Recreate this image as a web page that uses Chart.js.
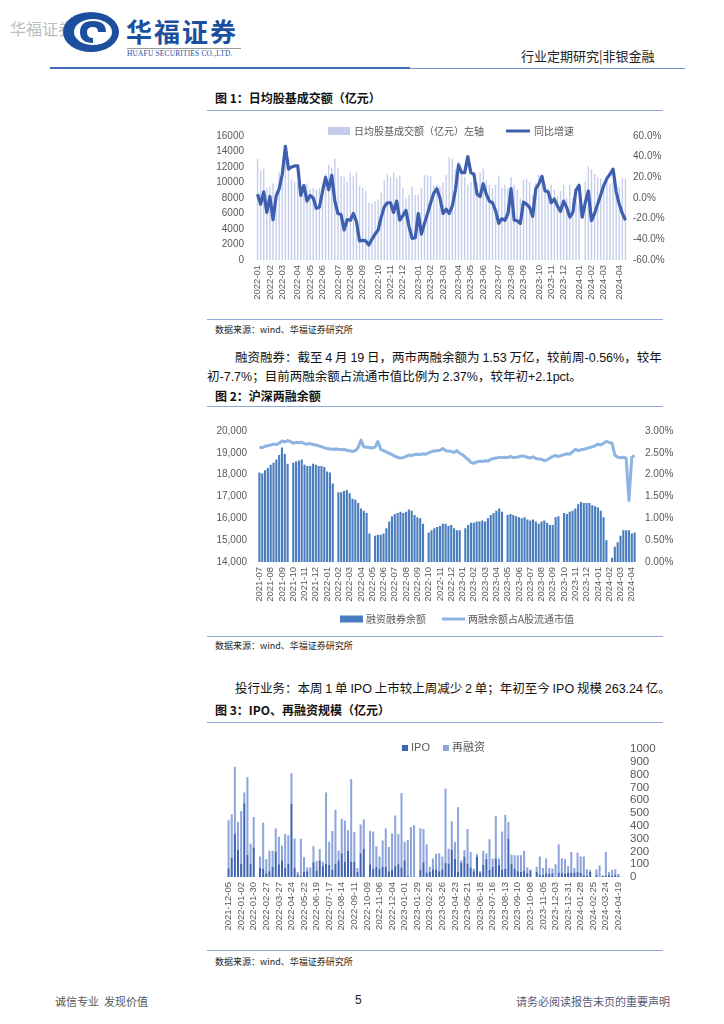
<!DOCTYPE html>
<html><head><meta charset="utf-8">
<script src="https://cdn.jsdelivr.net/npm/chart.js@4.4.1/dist/chart.umd.min.js"></script>
<style>
html,body{margin:0;padding:0;background:#fff;}
#page{position:relative;width:724px;height:1024px;overflow:hidden;font-family:'Noto Sans CJK SC','Liberation Sans',sans-serif;color:#111;}
.t{position:absolute;white-space:nowrap;}
.hr{position:absolute;height:0;border-top:1.5px solid #8fa9d8;}
.title{font-size:12px;font-weight:bold;height:16px;line-height:16px;}
.src{font-size:9px;color:#222;height:12px;line-height:12px;}
.body{font-size:12.5px;height:18px;line-height:18px;}
.num{font-family:'Liberation Sans',sans-serif;}
canvas{position:absolute;}
</style></head><body><div id="page">

<div class="t" style="left:10px;top:18px;font-size:16px;color:#bdbdbd;line-height:20px;">华福证券</div>
<svg style="position:absolute;left:62px;top:11px" width="60" height="42" viewBox="0 0 60 42">
  <ellipse cx="29" cy="21" rx="28" ry="20" fill="#1d4f9f"/>
  <ellipse cx="31" cy="21" rx="19" ry="13" fill="#fff"/>
  <path d="M18 21 Q18 10 31 10 Q44 10 44 21 L36 21 Q36 16 31 16 Q25 16 25 21 Q25 27 31 27 L31 32 Q18 32 18 21 Z" fill="#1d4f9f"/>
</svg>
<div class="t" style="left:126px;top:16px;font-size:26px;font-weight:bold;color:#1d4f9f;line-height:30px;letter-spacing:2px;">华福证券</div>
<div style="position:absolute;left:127px;top:48px;width:114px;border-top:1px solid #999;"></div>
<div class="t" style="left:127px;top:49px;font-size:7.4px;color:#1d4f9f;line-height:10px;font-family:'Liberation Serif',serif;letter-spacing:0.2px;">HUAFU SECURITIES CO.,LTD.</div>
<div class="t" style="left:521px;top:47px;font-size:13px;color:#222;line-height:18px;">行业定期研究|非银金融</div>
<div style="position:absolute;left:50px;top:67px;width:360px;border-top:2px solid #3f6cb8;"></div>
<div style="position:absolute;left:410px;top:67.5px;width:275px;border-top:1.5px solid #6f8fcc;"></div>

<div class="t title" style="left:215px;top:90px;">图 1：日均股基成交额（亿元）</div>
<div class="hr" style="left:207px;top:110px;width:456px;"></div>
<canvas id="c1" width="460" height="200" style="left:205px;top:118px;"></canvas>
<div class="hr" style="left:207px;top:319px;width:456px;"></div>
<div class="t src" style="left:215px;top:324px;">数据来源：wind、华福证券研究所</div>

<div class="t body" style="left:235px;top:348px;width:425px;text-align:justify;text-align-last:justify;">融资融券：截至 <span class="num">4</span> 月 <span class="num">19</span> 日，两市两融余额为 <span class="num">1.53</span> 万亿，较前周<span class="num">-0.56%</span>，较年</div>
<div class="t body" style="left:207px;top:367px;">初<span class="num">-7.7%</span>；目前两融余额占流通市值比例为 <span class="num">2.37%</span>，较年初<span class="num">+2.1pct</span>。</div>

<div class="t title" style="left:215px;top:388px;">图 2：沪深两融余额</div>
<div class="hr" style="left:207px;top:406px;width:456px;"></div>
<canvas id="c2" width="475" height="218" style="left:205px;top:414px;"></canvas>
<div class="hr" style="left:207px;top:636px;width:456px;"></div>
<div class="t src" style="left:215px;top:640px;">数据来源：wind、华福证券研究所</div>

<div class="t body" style="left:235px;top:679px;">投行业务：本周 <span class="num">1</span> 单 <span class="num">IPO</span> 上市较上周减少 <span class="num">2</span> 单；年初至今 <span class="num">IPO</span> 规模 <span class="num">263.24</span> 亿。</div>

<div class="t title" style="left:215px;top:702px;">图 3：IPO、再融资规模（亿元）</div>
<div class="hr" style="left:207px;top:722px;width:456px;"></div>
<canvas id="c3" width="460" height="215" style="left:205px;top:732px;"></canvas>
<div class="hr" style="left:207px;top:950px;width:456px;"></div>
<div class="t src" style="left:215px;top:956px;">数据来源：wind、华福证券研究所</div>

<div class="t" style="left:55px;top:993px;font-size:11px;color:#555;line-height:16px;">诚信专业&nbsp;&nbsp;发现价值</div>
<div class="t" style="left:355px;top:992px;font-size:12px;color:#222;line-height:16px;font-family:'Liberation Sans',sans-serif;">5</div>
<div class="t" style="left:516px;top:993px;font-size:11px;color:#5a5a78;line-height:16px;">请务必阅读报告末页的重要声明</div>

</div>
<script>
// ---------- Chart 1 data ----------
const months1 = ['2022-01','2022-02','2022-03','2022-04','2022-05','2022-06','2022-07','2022-08','2022-09','2022-10','2022-11','2022-12',
  '2023-01','2023-02','2023-03','2023-04','2023-05','2023-06','2023-07','2023-08','2023-09','2023-10','2023-11','2023-12',
  '2024-01','2024-02','2024-03','2024-04'];
const weeksPerMonth1 = [4,4,5,4,4,5,4,4,5,4,4,5, 4,4,5,4,4,5,4,4,5,4,4,5, 4,4,5,3];
const turnover1 = [
 13100,11500,11800,9300,9500,9900,8900,11300,10500,12700,
 13100,10400,10100,10100,9500,8400,9900,9100,9300,9100,
 9300,9700,11100,12300,11900,13100,11900,10900,10700,10100,
 11300,10800,11300,9500,9300,8900,7400,7300,7600,7800,
 8700,10300,11100,10700,11300,10600,10900,9300,8000,8400,
 9500,8400,8400,9300,11000,10900,10800,9600,9700,9500,
 10000,11000,13300,13100,11700,12700,11700,10700,9700,10100,
 10500,10000,11300,11800,10300,9700,9300,9700,10900,9300,
 9700,9300,10700,9700,9100,8000,10300,10500,10100,8400,
 9900,11000,9900,9700,9300,9700,9100,8300,8900,9700,
 8000,9700,8000,7600,7200,null,10100,12100,11700,11100,
 10700,10500,9500,10600,9800,10200,9600,9500,10600,10500];
const yoy1 = [
 3.7,-6,6,-14,1.5,-21,1.5,9,23,50,
 28,30,31,31,2.5,12,-3,2.5,0,-10,
 -9,6,20,8,22,-3,-15,-16,-31,-21,
 -21.5,-15,-23,-41.5,-41,-41.5,-45.5,-40,-35,-31,
 -18.5,-8.6,-4.6,-4.6,-14,-3,-21.5,-17,-12,-27.7,
 -39,-38.5,-15,-35,-24.6,-15,-4.6,4.6,9,0,
 -15,-10.8,-15,-7.7,7.7,32,24.6,24.6,40,24.6,
 23,3.7,1.5,13.8,3.7,-3,-4.6,-12.3,-24.6,-20,
 -21.5,-15,9,-21.5,-22,-24.6,-4,-6,-9,-17.8,
 9,13.8,21,6.8,6,-4.6,-1,-7.7,-12.9,-3,
 -9.2,-18.5,-13.8,7.7,12.3,-18.5,-4.6,6.8,-22,-15,
 -6,3,12.3,19,23,28,6,-6,-15,-21.5];
const leftTicks1 = {min:0, max:16000, step:2000};
const rightTicks1 = {min:-60, max:60, step:20};

// ---------- Chart 2 data ----------
const months2 = ['2021-07','2021-08','2021-09','2021-10','2021-11','2021-12',
  '2022-01','2022-02','2022-03','2022-04','2022-05','2022-06','2022-07','2022-08','2022-09','2022-10','2022-11','2022-12',
  '2023-01','2023-02','2023-03','2023-04','2023-05','2023-06','2023-07','2023-08','2023-09','2023-10','2023-11','2023-12',
  '2024-01','2024-02','2024-03','2024-04'];
const weeksPerMonth2 = [4,4,4,4,4,4, 4,4,4,4,4,4,4,4,4,4,4,4, 4,4,4,4,4,4,4,4,4,4,4,4, 4,4,4,2];
const margin2 = [
 18100,18050,18200,18300, 18450,18550,18700,18900, 19250,18950,18500,null, 18550,18600,18650,18700,
 18450,18400,18400,18500, 18450,18400,18400,18350, 18150,18100,17600,null, 17200,17200,17250,17300,
 17150,16900,16850,16700, 16450,16350,16250,15300, null,15200,15250,15250, 15300,15550,15850,16100,
 16200,16250,16300,16250, 16300,16400,16350,16150, 16050,16000,15750,null, 15350,15450,15550,15600,
 15650,15750,15750,15650, 15700,15550,15450,15450, null,15550,15700,15800, 15800,15850,15850,15900,
 15850,16000,16150,16250, 16350,16450,16300,null, 16150,16200,16150,16100, 16050,16000,16050,15950,
 15900,15950,15850,15750, 15850,15900,15800,15700, 15700,16050,16100,null, 16250,16200,16300,16350,
 16450,16650,16750,16700, 16700,16700,16600,16550, 16500,16350,16050,15000, null,14200,14700,14900,
 15200,15450,15450,15450, 15300,15350];
const ratio2 = [
 2.63,2.62,2.65,2.66, 2.68,2.70,2.69,2.72, 2.77,2.75,2.78,2.76, 2.72,2.74,2.73,2.74,
 2.71,2.70,2.71,2.69, 2.68,2.66,2.64,2.62, 2.60,2.59,2.58,2.59, 2.58,2.57,2.58,2.56,
 2.55,2.53,2.55,2.62, 2.79,2.64,2.63,2.62, 2.61,2.63,2.76,2.58, 2.55,2.52,2.49,2.46,
 2.42,2.40,2.38,2.39, 2.42,2.45,2.44,2.46, 2.47,2.46,2.48,2.47, 2.50,2.53,2.54,2.55,
 2.56,2.60,2.55,2.54, 2.53,2.51,2.55,2.49, 2.46,2.40,2.35,2.28, 2.26,2.29,2.31,2.30,
 2.32,2.31,2.35,2.37, 2.38,2.40,2.39,2.40, 2.39,2.42,2.39,2.40, 2.41,2.43,2.42,2.40,
 2.38,2.41,2.37,2.36, 2.35,2.32,2.34,2.38, 2.42,2.44,2.41,2.44, 2.46,2.48,2.47,2.52,
 2.58,2.55,2.57,2.58, 2.60,2.62,2.64,2.66, 2.70,2.68,2.72,2.76, 2.74,2.72,2.45,2.40,
 2.39,2.40,2.38,1.41, 2.40,2.44];
const leftTicks2 = {min:14000, max:20000, step:1000};
const rightTicks2 = {min:0, max:3, step:0.5};

// ---------- Chart 3 data ----------
const tickDates3 = ['2021-12-05','2022-01-02','2022-01-30','2022-02-27','2022-03-27','2022-04-24','2022-05-22','2022-06-19',
  '2022-07-17','2022-08-14','2022-09-11','2022-10-09','2022-11-06','2022-12-04','2023-01-01','2023-01-29','2023-02-26',
  '2023-03-26','2023-04-23','2023-05-21','2023-06-18','2023-07-16','2023-08-13','2023-09-10','2023-10-08','2023-11-05',
  '2023-12-03','2023-12-31','2024-01-28','2024-02-25','2024-03-24','2024-04-19'];
const weeksPerTick3 = 4;
const ipo3 = [
 68,150,338,210,105,575,175,105,230,0,
 70,65,30,45,80,195,100,130,70,105,
 570,70,20,10,40,45,0,115,50,130,
 85,105,95,55,105,130,185,120,205,120,
 120,40,185,220,0,100,65,80,65,80,
 80,45,55,85,100,75,130,10,0,0,
 0,55,115,35,40,60,55,45,60,110,
 105,215,140,40,110,160,105,75,45,160,
 35,95,140,55,80,145,95,55,65,300,
 105,65,45,40,50,30,50,0,40,20,
 15,30,25,30,0,35,35,25,35,35,
 35,40,35,15,10,40,0,15,0,10,
 10,15,10,15,10];
const refi3 = [
 375,340,522,220,410,85,605,155,238,0,
 90,360,110,160,125,185,215,115,265,220,
 240,230,20,288,115,30,75,125,75,88,
 35,555,180,305,420,75,270,320,160,645,
 230,30,225,230,0,260,290,160,95,205,
 300,190,285,395,235,580,145,280,390,405,
 0,325,260,220,40,85,125,140,100,580,
 115,220,135,505,20,50,270,120,20,20,
 10,110,45,240,65,330,50,300,420,130,
 70,105,125,130,155,45,10,0,40,140,
 55,115,45,35,100,220,110,115,50,160,
 35,150,125,145,50,15,0,45,90,0,
 185,25,45,45,15];
const rightTicks3 = {min:0, max:1000, step:100};

// ---------- helpers ----------
function expand(months, counts){ const out=[]; months.forEach((m,i)=>{ for(let k=0;k<counts[i];k++) out.push(m); }); return out; }
const cats1 = expand(months1, weeksPerMonth1);
const cats2 = expand(months2, weeksPerMonth2);
const cats3 = ipo3.map((_,k)=> k % weeksPerTick3 === 0 ? tickDates3[k/weeksPerTick3] : '');

Chart.defaults.font.family = "'Liberation Sans','Noto Sans CJK SC',sans-serif";
Chart.defaults.font.size = 10;
Chart.defaults.color = '#595959';

function makeLegend(cfg){
  return { id:'posLegend', afterDraw(chart){
    const ctx = chart.ctx; ctx.save(); ctx.font = cfg.font; ctx.textBaseline = 'middle';
    let x = cfg.x; const y = cfg.y;
    cfg.items.forEach(it=>{
      const ds = chart.data.datasets[it.ds];
      if (it.kind === 'line') { ctx.strokeStyle = ds.borderColor; ctx.lineWidth = it.lw; ctx.beginPath(); ctx.moveTo(x,y); ctx.lineTo(x+it.w,y); ctx.stroke(); }
      else { ctx.fillStyle = ds.backgroundColor; ctx.fillRect(x, y-it.h/2, it.w, it.h); }
      x += it.w + cfg.gap;
      ctx.fillStyle = cfg.color; ctx.fillText(ds.label, x, y);
      x += ctx.measureText(ds.label).width + cfg.spacing;
    });
    ctx.restore();
  }};
}
const noGrid = {display:false, drawTicks:false};
const noBorder = {display:false};
function monthTick(cats){ return function(v,i){ return (i===0 || cats[i]!==cats[i-1]) ? cats[i] : ''; }; }

// ---------- Chart 1 ----------
new Chart(document.getElementById('c1'), {
  type:'bar',
  data:{ labels: cats1, datasets:[
    {type:'bar', label:'日均股基成交额（亿元）左轴', data: turnover1, backgroundColor:'#c4cdec', yAxisID:'y', barPercentage:0.45, categoryPercentage:1, order:1},
    {type:'line', label:'同比增速', data: yoy1, borderColor:'#3d5fae', borderWidth:3.2, pointRadius:0, tension:0, yAxisID:'y1', order:0, borderJoinStyle:'round', spanGaps:true}
  ]},
  options:{ responsive:false, animation:false, layout:{padding:{top:12,left:0,right:0,bottom:0}},
    plugins:{legend:{display:false}, tooltip:{enabled:false}},
    scales:{
      x:{ grid:noGrid, border:noBorder, ticks:{autoSkip:false, minRotation:90, maxRotation:90, padding:5, font:{size:9.5}, callback: monthTick(cats1)}, afterFit(s){ s.height = 58; } },
      y:{ position:'left', min:leftTicks1.min, max:leftTicks1.max, grid:noGrid, border:noBorder, ticks:{stepSize:leftTicks1.step, autoSkip:false, padding:12, callback:v=>String(v)}, afterFit(s){ s.width = 51; } },
      y1:{ position:'right', min:rightTicks1.min, max:rightTicks1.max, grid:noGrid, border:noBorder, ticks:{stepSize:rightTicks1.step, autoSkip:false, padding:6, callback:v=>v.toFixed(1)+'%'}, afterFit(s){ s.width = 38; } }
    }
  },
  plugins:[makeLegend({x:123, y:13, gap:4, spacing:22, color:'#595959', font:"10px 'Noto Sans CJK SC'", items:[{ds:0,kind:'rect',w:22,h:8},{ds:1,kind:'line',w:24,lw:3}]})]
});

// ---------- Chart 2 ----------
new Chart(document.getElementById('c2'), {
  type:'bar',
  data:{ labels: cats2, datasets:[
    {type:'bar', label:'融资融券余额', data: margin2, backgroundColor:'#4a7dbd', yAxisID:'y', barPercentage:0.75, categoryPercentage:1, order:1},
    {type:'line', label:'两融余额占A股流通市值', data: ratio2, borderColor:'#8db4e2', borderWidth:3, pointRadius:0, tension:0, yAxisID:'y1', order:0, borderJoinStyle:'round'}
  ]},
  options:{ responsive:false, animation:false, layout:{padding:{top:12,left:0,right:0,bottom:20}},
    plugins:{legend:{display:false}, tooltip:{enabled:false}},
    scales:{
      x:{ grid:noGrid, border:noBorder, ticks:{autoSkip:false, minRotation:90, maxRotation:90, padding:5, font:{size:9.5}, callback: monthTick(cats2)}, afterFit(s){ s.height = 50; } },
      y:{ position:'left', min:leftTicks2.min, max:leftTicks2.max, grid:noGrid, border:noBorder, ticks:{stepSize:leftTicks2.step, autoSkip:false, padding:11, callback:v=>v.toLocaleString('en-US')}, afterFit(s){ s.width = 53; } },
      y1:{ position:'right', min:rightTicks2.min, max:rightTicks2.max, grid:noGrid, border:noBorder, ticks:{stepSize:rightTicks2.step, autoSkip:false, padding:9, callback:v=>v.toFixed(2)+'%'}, afterFit(s){ s.width = 44; } }
    }
  },
  plugins:[makeLegend({x:135, y:205, gap:3, spacing:16, color:'#595959', font:"10px 'Noto Sans CJK SC'", items:[{ds:0,kind:'rect',w:23,h:7},{ds:1,kind:'line',w:23,lw:3}]})]
});

// ---------- Chart 3 ----------
new Chart(document.getElementById('c3'), {
  type:'bar',
  data:{ labels: cats3, datasets:[
    {label:'IPO', data: ipo3, backgroundColor:'#3e63b2', barPercentage:0.65, categoryPercentage:1},
    {label:'再融资', data: refi3, backgroundColor:'#8ea5dc', barPercentage:0.65, categoryPercentage:1}
  ]},
  options:{ responsive:false, animation:false, layout:{padding:{top:12,left:22,right:0,bottom:0}},
    plugins:{legend:{display:false}, tooltip:{enabled:false}},
    scales:{
      x:{ stacked:true, grid:noGrid, border:noBorder, ticks:{autoSkip:false, minRotation:90, maxRotation:90, padding:5, font:{size:9.5}}, afterFit(s){ s.height = 70; } },
      y:{ stacked:true, position:'right', min:rightTicks3.min, max:rightTicks3.max, grid:noGrid, border:noBorder, ticks:{stepSize:rightTicks3.step, autoSkip:false, padding:10, font:{size:11.5}, callback:v=>String(v)}, afterFit(s){ s.width = 45; } }
    }
  },
  plugins:[makeLegend({x:197, y:16, gap:3, spacing:13, color:'#595959', font:"11px 'Liberation Sans','Noto Sans CJK SC'", items:[{ds:0,kind:'rect',w:6,h:6},{ds:1,kind:'rect',w:6,h:6}]})]
});
</script>
</body></html>
